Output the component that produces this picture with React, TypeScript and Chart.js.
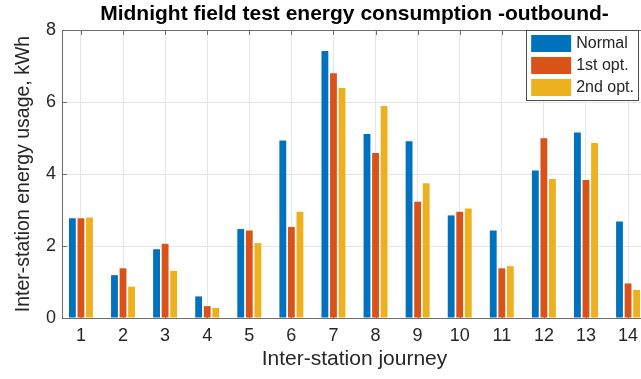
import React, { useEffect, useRef } from "react";
import { Chart, registerables } from "chart.js";

Chart.register(...registerables);

// ---- data ----
const categories = [1, 2, 3, 4, 5, 6, 7, 8, 9, 10, 11, 12, 13, 14];
const seriesLabels = ["Normal", "1st opt.", "2nd opt."];
const normal = [2.77, 1.19, 1.91, 0.6, 2.47, 4.93, 7.42, 5.11, 4.91, 2.85, 2.43, 4.1, 5.15, 2.68];
const firstOpt = [2.77, 1.38, 2.06, 0.33, 2.43, 2.53, 6.8, 4.58, 3.23, 2.95, 1.38, 4.99, 3.83, 0.96];
const secondOpt = [2.79, 0.87, 1.31, 0.28, 2.08, 2.95, 6.39, 5.89, 3.74, 3.04, 1.44, 3.86, 4.86, 0.78];
const yTicks = [0, 2, 4, 6, 8];
const titleText = "Midnight field test energy consumption -outbound-";
const xTitle = "Inter-station journey";
const yTitle = "Inter-station energy usage, kWh";

// ---- styles ----
const COLORS = ["#0072BD", "#D95319", "#EDB120"];
const FONT = "'Liberation Sans', Arial, Helvetica, sans-serif";
const AXIS = "#6e6e6e";
const TEXT = "#262626";
const GRID = "#e6e6e6";

const boxPlugin = {
  id: "matlabBox",
  beforeDatasetsDraw(chart: any) {
    const { ctx, chartArea: a, scales } = chart;
    const x = scales.x;
    const y = scales.y;
    ctx.save();
    ctx.strokeStyle = AXIS;
    ctx.lineWidth = 1;
    ctx.beginPath();
    ctx.moveTo(a.left, a.top + 0.5);
    ctx.lineTo(a.right, a.top + 0.5);
    categories.forEach((c) => {
      const px = Math.round(x.getPixelForValue(c)) + 0.5;
      ctx.moveTo(px, a.top);
      ctx.lineTo(px, a.top + 5);
      ctx.moveTo(px, a.bottom);
      ctx.lineTo(px, a.bottom - 5);
    });
    yTicks.forEach((v) => {
      const py = Math.round(y.getPixelForValue(v)) + 0.5;
      ctx.moveTo(a.left, py);
      ctx.lineTo(a.left + 5, py);
    });
    ctx.stroke();
    ctx.restore();
  },
};

const legendPlugin = {
  id: "insideLegend",
  afterDraw(chart: any) {
    const { ctx, chartArea: a } = chart;
    const ds = chart.data.datasets;
    ctx.save();
    ctx.font = `16px ${FONT}`;
    const maxText = Math.max(...ds.map((d: any) => ctx.measureText(d.label).width));
    const rowH = 22;
    const w = 5 + 40 + 5 + maxText + 4;
    const h = 4 + rowH * ds.length;
    const right = 638;
    const left = right - w;
    const top = a.top;
    ctx.fillStyle = "#ffffff";
    ctx.fillRect(left, top, w, h);
    ctx.strokeStyle = "#4d4d4d";
    ctx.lineWidth = 1;
    ctx.strokeRect(Math.round(left) + 0.5, Math.round(top) + 0.5, Math.round(w), Math.round(h));
    ds.forEach((d: any, i: number) => {
      const ry = top + 5 + i * rowH;
      ctx.fillStyle = d.backgroundColor;
      ctx.fillRect(left + 5, ry, 40, 17);
      ctx.fillStyle = TEXT;
      ctx.textBaseline = "middle";
      ctx.textAlign = "left";
      ctx.fillText(d.label, left + 50, ry + 9);
    });
    ctx.restore();
  },
};

export default function App() {
  const ref = useRef<HTMLCanvasElement | null>(null);
  useEffect(() => {
    if (!ref.current) return;
    const series = [normal, firstOpt, secondOpt];
    const chart = new Chart(ref.current, {
      type: "bar",
      data: {
        datasets: series.map((vals, i) => ({
          label: seriesLabels[i],
          data: categories.map((c, j) => ({ x: c, y: vals[j] })),
          backgroundColor: COLORS[i],
          borderWidth: 0,
          barPercentage: 0.8,
          categoryPercentage: 0.61,
        })),
      },
      options: {
        animation: false,
        responsive: true,
        maintainAspectRatio: false,
        layout: { padding: 0 },
        plugins: {
          legend: { display: false },
          tooltip: { enabled: false },
          title: {
            display: true,
            text: titleText,
            fullSize: false,
            color: "#000000",
            font: { family: FONT, size: 21, weight: "bold" },
            padding: { top: 2, bottom: 2.8 },
          },
        },
        scales: {
          x: {
            type: "linear",
            min: 0.55,
            max: 14.45,
            offset: false,
            afterBuildTicks: (s: any) => {
              s.ticks = categories.map((v) => ({ value: v }));
            },
            afterFit: (s: any) => {
              s.height = 61;
            },
            grid: { color: GRID, drawTicks: false, offset: false },
            border: { color: AXIS },
            ticks: {
              color: TEXT,
              padding: 7,
              font: { family: FONT, size: 18 },
              callback: (v: any) => String(v),
            },
            title: {
              display: true,
              text: xTitle,
              color: TEXT,
              font: { family: FONT, size: 21 },
              padding: { top: 0, bottom: 7 },
            },
          },
          y: {
            min: 0,
            max: 8,
            afterBuildTicks: (s: any) => {
              s.ticks = yTicks.map((v) => ({ value: v }));
            },
            afterFit: (s: any) => {
              s.width = 62;
            },
            grid: { color: GRID, drawTicks: false },
            border: { color: AXIS },
            ticks: {
              color: TEXT,
              padding: 6,
              font: { family: FONT, size: 18 },
            },
            title: {
              display: true,
              text: yTitle,
              color: TEXT,
              font: { family: FONT, size: 19.5 },
              padding: { top: 12, bottom: 0 },
            },
          },
        },
      },
      plugins: [boxPlugin, legendPlugin],
    });
    return () => chart.destroy();
  }, []);

  return (
    <div style={{ position: "absolute", left: 0, top: 0, width: 641, height: 379, overflow: "hidden", background: "#fff" }}>
      <div style={{ position: "relative", width: 647, height: 379 }}>
        <canvas ref={ref} />
      </div>
    </div>
  );
}
